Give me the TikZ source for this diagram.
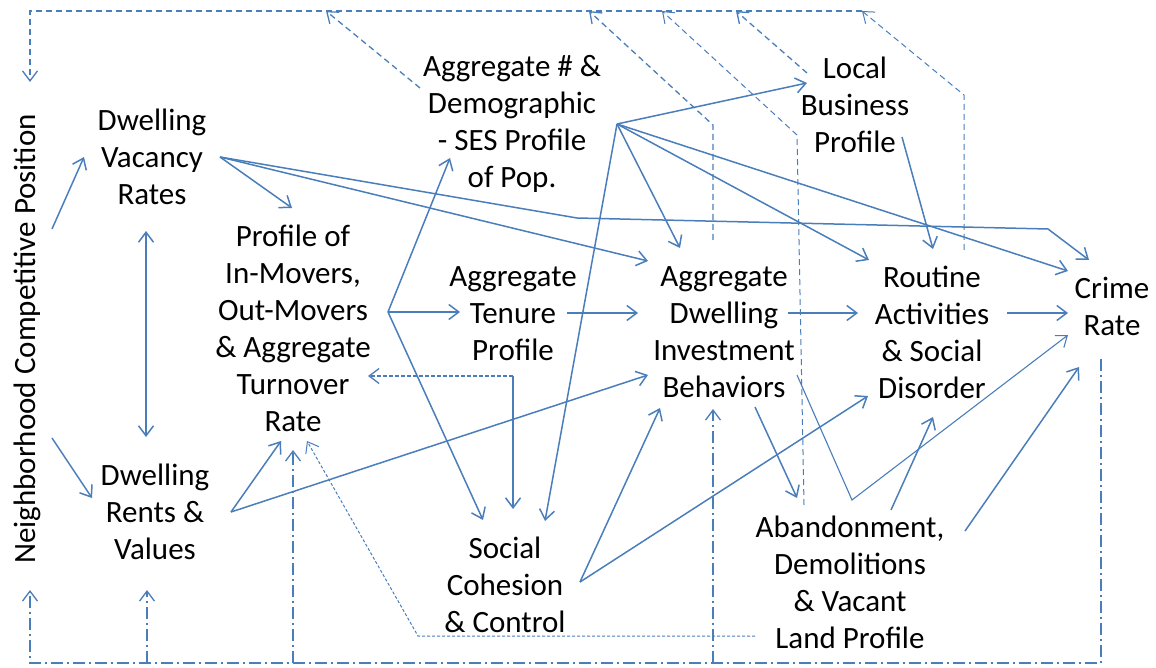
\documentclass[tikz,border=0pt]{standalone}
\usepackage{fontspec}
\setmainfont{Carlito}
\usetikzlibrary{arrows.meta}
\definecolor{blu}{RGB}{74,126,187}
\tikzset{
  lbl/.style={align=center, inner sep=0pt, font=\fontsize{31}{37}\selectfont},
  tip/.style={-{Straight Barb[length=10pt,width=15pt]}},
  tips/.style={{Straight Barb[length=10pt,width=15pt]}-{Straight Barb[length=10pt,width=15pt]}},
  arr/.style={draw=blu, line width=1.5pt, tip},
  dsh/.style={draw=blu, line width=1.3pt, dash pattern=on 6pt off 4pt, tip},
  fdsh/.style={draw=blu, line width=1pt, dash pattern=on 3pt off 2pt, tip},
  ddot/.style={draw=blu, line width=1.3pt, dash pattern=on 12pt off 4pt on 2pt off 4pt, tip}
}
\begin{document}
\begin{tikzpicture}[x=1pt,y=-1pt]
\useasboundingbox (0,0) rectangle (1156,668);

% text nodes
\node[lbl, rotate=90] (ncp) at (27,339) {Neighborhood Competitive Position};
\node[lbl] (vac) at (152,157) {Dwelling\\Vacancy\\Rates};
\node[lbl] (rent) at (155,512) {Dwelling\\Rents \&\\Values};
\node[lbl] (prof) at (293,328) {Profile of\\In-Movers,\\Out-Movers\\\& Aggregate\\Turnover\\Rate};
\node[lbl] (demo) at (512,124) {Aggregate \# \&\\Demographic\\- SES Profile\\of Pop.};
\node[lbl] (biz) at (855,105) {Local\\Business\\Profile};
\node[lbl] (ten) at (513,314) {Aggregate\\Tenure\\Profile};
\node[lbl] (inv) at (724,332) {Aggregate\\Dwelling\\Investment\\Behaviors};
\node[lbl] (rout) at (932,332) {Routine\\Activities\\\& Social\\Disorder};
\node[lbl] (crime) at (1112,306) {Crime\\Rate};
\node[lbl] (coh) at (505,585) {Social\\Cohesion\\\& Control};
\node[lbl] (aban) at (850,582) {Abandonment,\\Demolitions\\\& Vacant\\Land Profile};

% connector ends
\coordinate (ncpA) at (52,229);
\coordinate (ncpB) at (52,438);
\coordinate (ncpT) at (30,82);
\coordinate (ncpD) at (30,590);
\coordinate (vacI) at (84,157);
\coordinate (vacO) at (220,157);
\coordinate (vacB) at (146,231);
\coordinate (rentT) at (146,437);
\coordinate (rentI) at (92,498);
\coordinate (rentO) at (231,512);
\coordinate (rentD) at (147,590);
\coordinate (profT) at (292,208);
\coordinate (profO) at (388,312);
\coordinate (profR) at (368,376);
\coordinate (profE) at (281,441);
\coordinate (profF) at (307,441);
\coordinate (profD) at (293,450);
\coordinate (demoO) at (617,124);
\coordinate (demoI) at (450,158);
\coordinate (demoU) at (420,88);
\coordinate (bizI) at (807,83);
\coordinate (bizU) at (807,73);
\coordinate (bizO) at (902,137);
\coordinate (tenI) at (460,312);
\coordinate (tenO) at (567,313);
\coordinate (tenB) at (513,376);
\coordinate (invW) at (638,313);
\coordinate (invT) at (648,261);
\coordinate (invN) at (680,248);
\coordinate (invL) at (648,375);
\coordinate (invC) at (660,408);
\coordinate (invO) at (788,313);
\coordinate (invB) at (755,407);
\coordinate (invR) at (797,375);
\coordinate (invU) at (713,240);
\coordinate (invD) at (713,409);
\coordinate (routW) at (858,313);
\coordinate (routN) at (869,260);
\coordinate (routT) at (933,249);
\coordinate (routC) at (868,396);
\coordinate (routA) at (933,417);
\coordinate (routO) at (1007,313);
\coordinate (routU) at (964,250);
\coordinate (crimeK) at (1089,260);
\coordinate (crimeN) at (1068,271);
\coordinate (crimeW) at (1068,313);
\coordinate (crimeL) at (1068,335);
\coordinate (crimeB) at (1079,367);
\coordinate (crimeD) at (1101,359);
\coordinate (cohO) at (580,582);
\coordinate (cohL) at (483,520);
\coordinate (cohM) at (513,509);
\coordinate (cohR) at (545,521);
\coordinate (abanT) at (804,505);
\coordinate (abanI) at (797,498);
\coordinate (abanA) at (891,510);
\coordinate (abanB) at (965,531);
\coordinate (abanW) at (755,636);

% bends
\coordinate (k1) at (577,218);
\coordinate (k2) at (1048,229);
\coordinate (k3) at (852,500);
\coordinate (k4) at (713,125);
\coordinate (k5) at (797,135);
\coordinate (k6) at (964,95);
\coordinate (k7) at (418,636);
\coordinate (top1) at (326,11);
\coordinate (top2) at (589,11);
\coordinate (top3) at (662,11);
\coordinate (top4) at (736,11);
\coordinate (top5) at (862,11);
\coordinate (topL) at (30,11);
\coordinate (bot1) at (30,663);
\coordinate (bot2) at (147,663);
\coordinate (bot3) at (293,663);
\coordinate (bot4) at (713,663);
\coordinate (bot5) at (1101,663);

% solid arrows
\draw [arr] (ncpA) -- (vacI);
\draw [arr] (ncpB) -- (rentI);
\draw [arr, tips] (vacB) -- (rentT);
\draw [arr] (vacO) -- (profT);
\draw [arr] (vacO) -- (invT);
\draw [arr] (vacO) -- (k1) -- (k2) -- (crimeK);
\draw [arr] (demoO) -- (bizI);
\draw [arr] (demoO) -- (invN);
\draw [arr] (demoO) -- (routN);
\draw [arr] (demoO) -- (crimeN);
\draw [arr] (demoO) -- (cohR);
\draw [arr] (profO) -- (demoI);
\draw [arr] (profO) -- (tenI);
\draw [arr] (profO) -- (cohL);
\draw [arr] (tenO) -- (invW);
\draw [arr] (invO) -- (routW);
\draw [arr] (routO) -- (crimeW);
\draw [arr] (bizO) -- (routT);
\draw [arr] (rentO) -- (profE);
\draw [arr] (rentO) -- (invL);
\draw [arr] (cohO) -- (invC);
\draw [arr] (cohO) -- (routC);
\draw [arr] (invB) -- (abanI);
\draw [arr, line width=1.1pt] (invR) -- (k3) -- (crimeL);
\draw [arr] (abanA) -- (routA);
\draw [arr] (abanB) -- (crimeB);
\draw [arr] (tenB) -- (cohM);
\draw [fdsh, line width=1.3pt, dash pattern=on 4pt off 2pt] (tenB) -- (profR);

% dashed feedback to the top
\draw [dsh] (top5) -- (topL) -- (ncpT);
\draw [dsh] (demoU) -- (top1);
\draw [dsh] (invU) -- (k4) -- (top2);
\draw [dsh, line width=1pt] (abanT) -- (k5) -- (top3);
\draw [dsh] (bizU) -- (top4);
\draw [dsh, line width=1pt] (routU) -- (k6) -- (top5);
\draw [fdsh] (abanW) -- (k7) -- (profF);

% dash-dot feedback from crime
\draw [ddot] (crimeD) -- (bot5) -- (bot1) -- (ncpD);
\draw [ddot] (bot2) -- (rentD);
\draw [ddot] (bot3) -- (profD);
\draw [ddot] (bot4) -- (invD);
\end{tikzpicture}
\end{document}
